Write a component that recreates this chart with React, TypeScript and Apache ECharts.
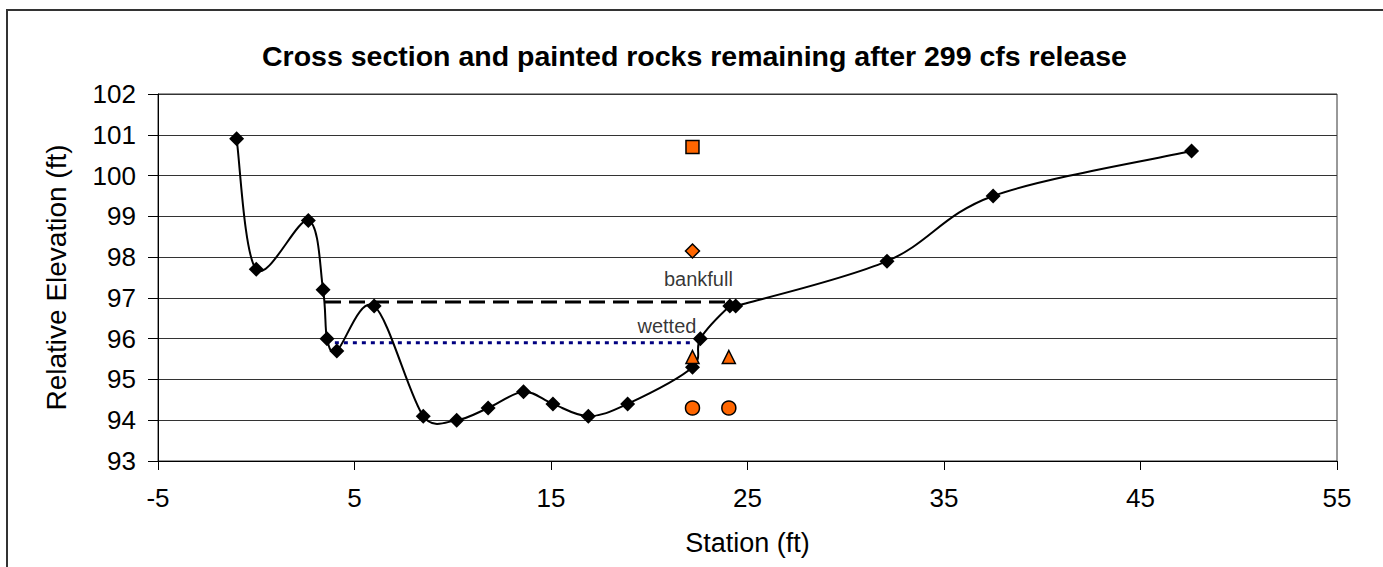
import React, { useEffect, useRef } from "react";
import * as echarts from "echarts";

// Cross-section survey (station ft, relative elevation ft)
const stations = [-1, 0, 2.65, 3.4, 3.6, 4.1, 6.0, 8.5, 10.2, 11.8, 13.6, 15.1, 16.9, 18.9, 22.2, 22.6, 24.1, 24.4, 32.1, 37.5, 47.6];
const elevations = [100.9, 97.7, 98.9, 97.2, 96.0, 95.7, 96.8, 94.1, 94.0, 94.3, 94.7, 94.4, 94.1, 94.4, 95.3, 96.0, 96.8, 96.8, 97.9, 99.5, 100.6];

// Painted rocks remaining
const squareX = [22.2];
const squareY = [100.7];
const diamondX = [22.2];
const diamondY = [98.15];
const triangleX = [22.2, 24.05];
const triangleY = [95.55, 95.55];
const circleX = [22.2, 24.05];
const circleY = [94.3, 94.3];

// Water levels
const bankfullX = [3.5, 24.2];
const bankfullY = [96.9, 96.9];
const wettedX = [4.0, 22.1];
const wettedY = [95.9, 95.9];

// Annotation labels
const labelTexts = ["bankfull", "wetted"];
const labelX = [22.5, 20.9];
const labelY = [97.46, 96.3];

const xTicks = { min: -5, max: 55, interval: 10 };
const yTicks = { min: 93, max: 102, interval: 1 };

const zip = (xs: number[], ys: number[]) => xs.map((x, i) => [x, ys[i]]);

const FONT = "'Liberation Sans', Arial, sans-serif";
const ORANGE = "#FF6600";

// Excel-like smoothed curve (Bezier with 1/6 tension, offsets capped at half segment)
function smoothPath(pts: number[][]): string {
  const n = pts.length;
  if (n < 2) return "";
  let d = `M${pts[0][0]},${pts[0][1]}`;
  const cap = (v: number[], seg: number) => {
    const len = Math.hypot(v[0], v[1]);
    const lim = seg / 2;
    if (len > lim && len > 0) {
      const s = lim / len;
      return [v[0] * s, v[1] * s];
    }
    return v;
  };
  for (let i = 0; i < n - 1; i++) {
    const p0 = pts[i - 1] || pts[i];
    const p1 = pts[i];
    const p2 = pts[i + 1];
    const p3 = pts[i + 2] || pts[i + 1];
    const seg = Math.hypot(p2[0] - p1[0], p2[1] - p1[1]);
    const t1 = cap([(p2[0] - p0[0]) / 6, (p2[1] - p0[1]) / 6], seg);
    const t2 = cap([(p3[0] - p1[0]) / 6, (p3[1] - p1[1]) / 6], seg);
    const c1 = [p1[0] + t1[0], p1[1] + t1[1]];
    const c2 = [p2[0] - t2[0], p2[1] - t2[1]];
    d += ` C${c1[0]},${c1[1]} ${c2[0]},${c2[1]} ${p2[0]},${p2[1]}`;
  }
  return d;
}

export default function App() {
  const ref = useRef<HTMLDivElement>(null);
  useEffect(() => {
    document.body.style.margin = "0";
    const chart = echarts.init(ref.current!, null, { renderer: "svg" });
    const rockStyle = { color: ORANGE, borderColor: "#000", borderWidth: 1.5, opacity: 1 };
    chart.setOption({
      animation: false,
      backgroundColor: "#fff",
      title: {
        text: "Cross section and painted rocks remaining after 299 cfs release",
        left: 262,
        top: 41,
        padding: 0,
        textStyle: { fontFamily: FONT, fontSize: 28.5, fontWeight: "bold", color: "#000" },
      },
      graphic: [
        {
          type: "rect",
          shape: { x: 7, y: 10, width: 1400, height: 600 },
          style: { fill: "none", stroke: "#333", lineWidth: 2 },
          silent: true,
        },
      ],
      grid: {
        left: 158,
        right: 46,
        top: 94,
        bottom: 106,
        show: true,
        borderColor: "#333",
        borderWidth: 1,
        backgroundColor: "transparent",
      },
      xAxis: {
        type: "value",
        min: xTicks.min,
        max: xTicks.max,
        interval: xTicks.interval,
        name: "Station (ft)",
        nameLocation: "middle",
        nameGap: 68,
        nameTextStyle: { fontFamily: FONT, fontSize: 27, color: "#000" },
        axisLine: { show: true, onZero: false, lineStyle: { color: "#000", width: 1 } },
        axisTick: { show: true, length: 9, lineStyle: { color: "#000" } },
        axisLabel: { fontFamily: FONT, fontSize: 26, color: "#000", margin: 24 },
        splitLine: { show: false },
      },
      yAxis: {
        type: "value",
        min: yTicks.min,
        max: yTicks.max,
        interval: yTicks.interval,
        name: "Relative Elevation (ft)",
        nameLocation: "middle",
        nameGap: 88,
        nameTextStyle: { fontFamily: FONT, fontSize: 28, color: "#000" },
        axisLine: { show: true, onZero: false, lineStyle: { color: "#000", width: 1 } },
        axisTick: { show: true, length: 10, lineStyle: { color: "#000" } },
        axisLabel: { fontFamily: FONT, fontSize: 26, color: "#000", margin: 22 },
        splitLine: { show: true, lineStyle: { color: "#333", width: 1 } },
      },
      series: [
        {
          type: "line",
          data: zip(bankfullX, bankfullY),
          symbol: "none",
          lineStyle: { color: "#000", width: 3, type: [16, 8] },
          z: 2,
        },
        {
          type: "line",
          data: zip(wettedX, wettedY),
          symbol: "none",
          lineStyle: { color: "#000080", width: 3, type: [4, 5] },
          z: 2,
        },
        {
          type: "custom",
          data: [[stations[0], elevations[0]]],
          clip: false,
          renderItem: (_params: any, api: any) => {
            const pts = stations.map((x, i) => api.coord([x, elevations[i]]));
            return {
              type: "path",
              shape: { pathData: smoothPath(pts) },
              style: { fill: "none", stroke: "#000", lineWidth: 2 },
            };
          },
          z: 3,
        },
        {
          type: "scatter",
          data: zip(stations, elevations),
          symbol: "diamond",
          symbolSize: 15,
          itemStyle: { color: "#000", opacity: 1 },
          z: 4,
        },
        {
          type: "scatter",
          data: zip(squareX, squareY),
          symbol: "rect",
          symbolSize: 13,
          itemStyle: rockStyle,
          z: 5,
        },
        {
          type: "scatter",
          data: zip(diamondX, diamondY),
          symbol: "diamond",
          symbolSize: 14,
          itemStyle: rockStyle,
          z: 5,
        },
        {
          type: "scatter",
          data: zip(triangleX, triangleY),
          symbol: "triangle",
          symbolSize: 13,
          itemStyle: rockStyle,
          z: 5,
        },
        {
          type: "scatter",
          data: zip(circleX, circleY),
          symbol: "circle",
          symbolSize: 14,
          itemStyle: rockStyle,
          z: 5,
        },
        {
          type: "scatter",
          data: labelX.map((x, i) => ({ value: [x, labelY[i]], name: labelTexts[i] })),
          symbolSize: 0,
          label: {
            show: true,
            position: "inside",
            formatter: (p: any) => p.name,
            fontFamily: FONT,
            fontSize: 20,
            color: "#000",
          },
          z: 6,
        },
      ],
    });
    return () => chart.dispose();
  }, []);
  return (
    <div
      ref={ref}
      style={{ position: "fixed", left: 0, top: 0, width: 1383, height: 567, background: "#fff" }}
    />
  );
}
